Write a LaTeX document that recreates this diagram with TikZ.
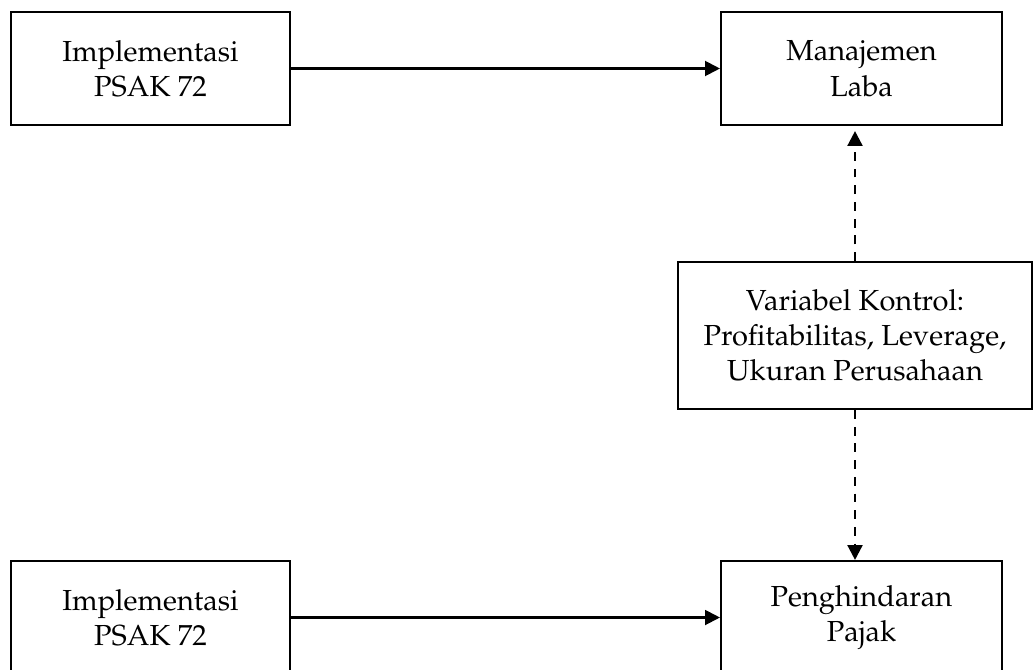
\documentclass[tikz,border=0pt]{standalone}
\usepackage[T1]{fontenc}
\usepackage{mathpazo}
\usetikzlibrary{arrows.meta}
\usetikzlibrary{positioning}
\tikzstyle{box}=[rectangle,draw=black,line width=1.2pt,align=center,inner sep=0pt,font=\fontsize{16.5}{20}\selectfont]
\tikzstyle{link}=[-{Triangle[length=8.5pt,width=8.5pt]},line width=1.2pt]
\tikzstyle{control}=[link,line width=1.4pt,dash pattern=on 5pt off 4.5pt]

\begin{document}
\begin{tikzpicture}[x=0.02cm,y=-0.02cm]

  \useasboundingbox (0,0) rectangle (1033,669);

    \foreach \pos/\name/\w/\h/\txt in {{(150.5,68.5)/impA/279/113/Implementasi\\PSAK 72}, {(861.5,68.5)/laba/281/113/Manajemen\\Laba}, {(855,335.5)/ctrl/354/147/Variabel Kontrol:\\Profitabilitas, Leverage,\\Ukuran Perusahaan}, {(150.5,617.5)/impB/279/113/Implementasi\\PSAK 72}, {(861.5,617.5)/pajak/281/113/Penghindaran\\Pajak}}
        \node[box,minimum width=\w*0.02cm,minimum height=\h*0.02cm] (\name) at \pos {\txt};

    \foreach \source/\dest in {impA/laba, impB/pajak}
        \draw[link] (\source) -- (\dest);

\draw[control, shorten >=0.1cm] (ctrl.north) -- (ctrl.north |- laba.south);
\draw[control] (ctrl.south) -- (ctrl.south |- pajak.north);

\end{tikzpicture}
\end{document}
